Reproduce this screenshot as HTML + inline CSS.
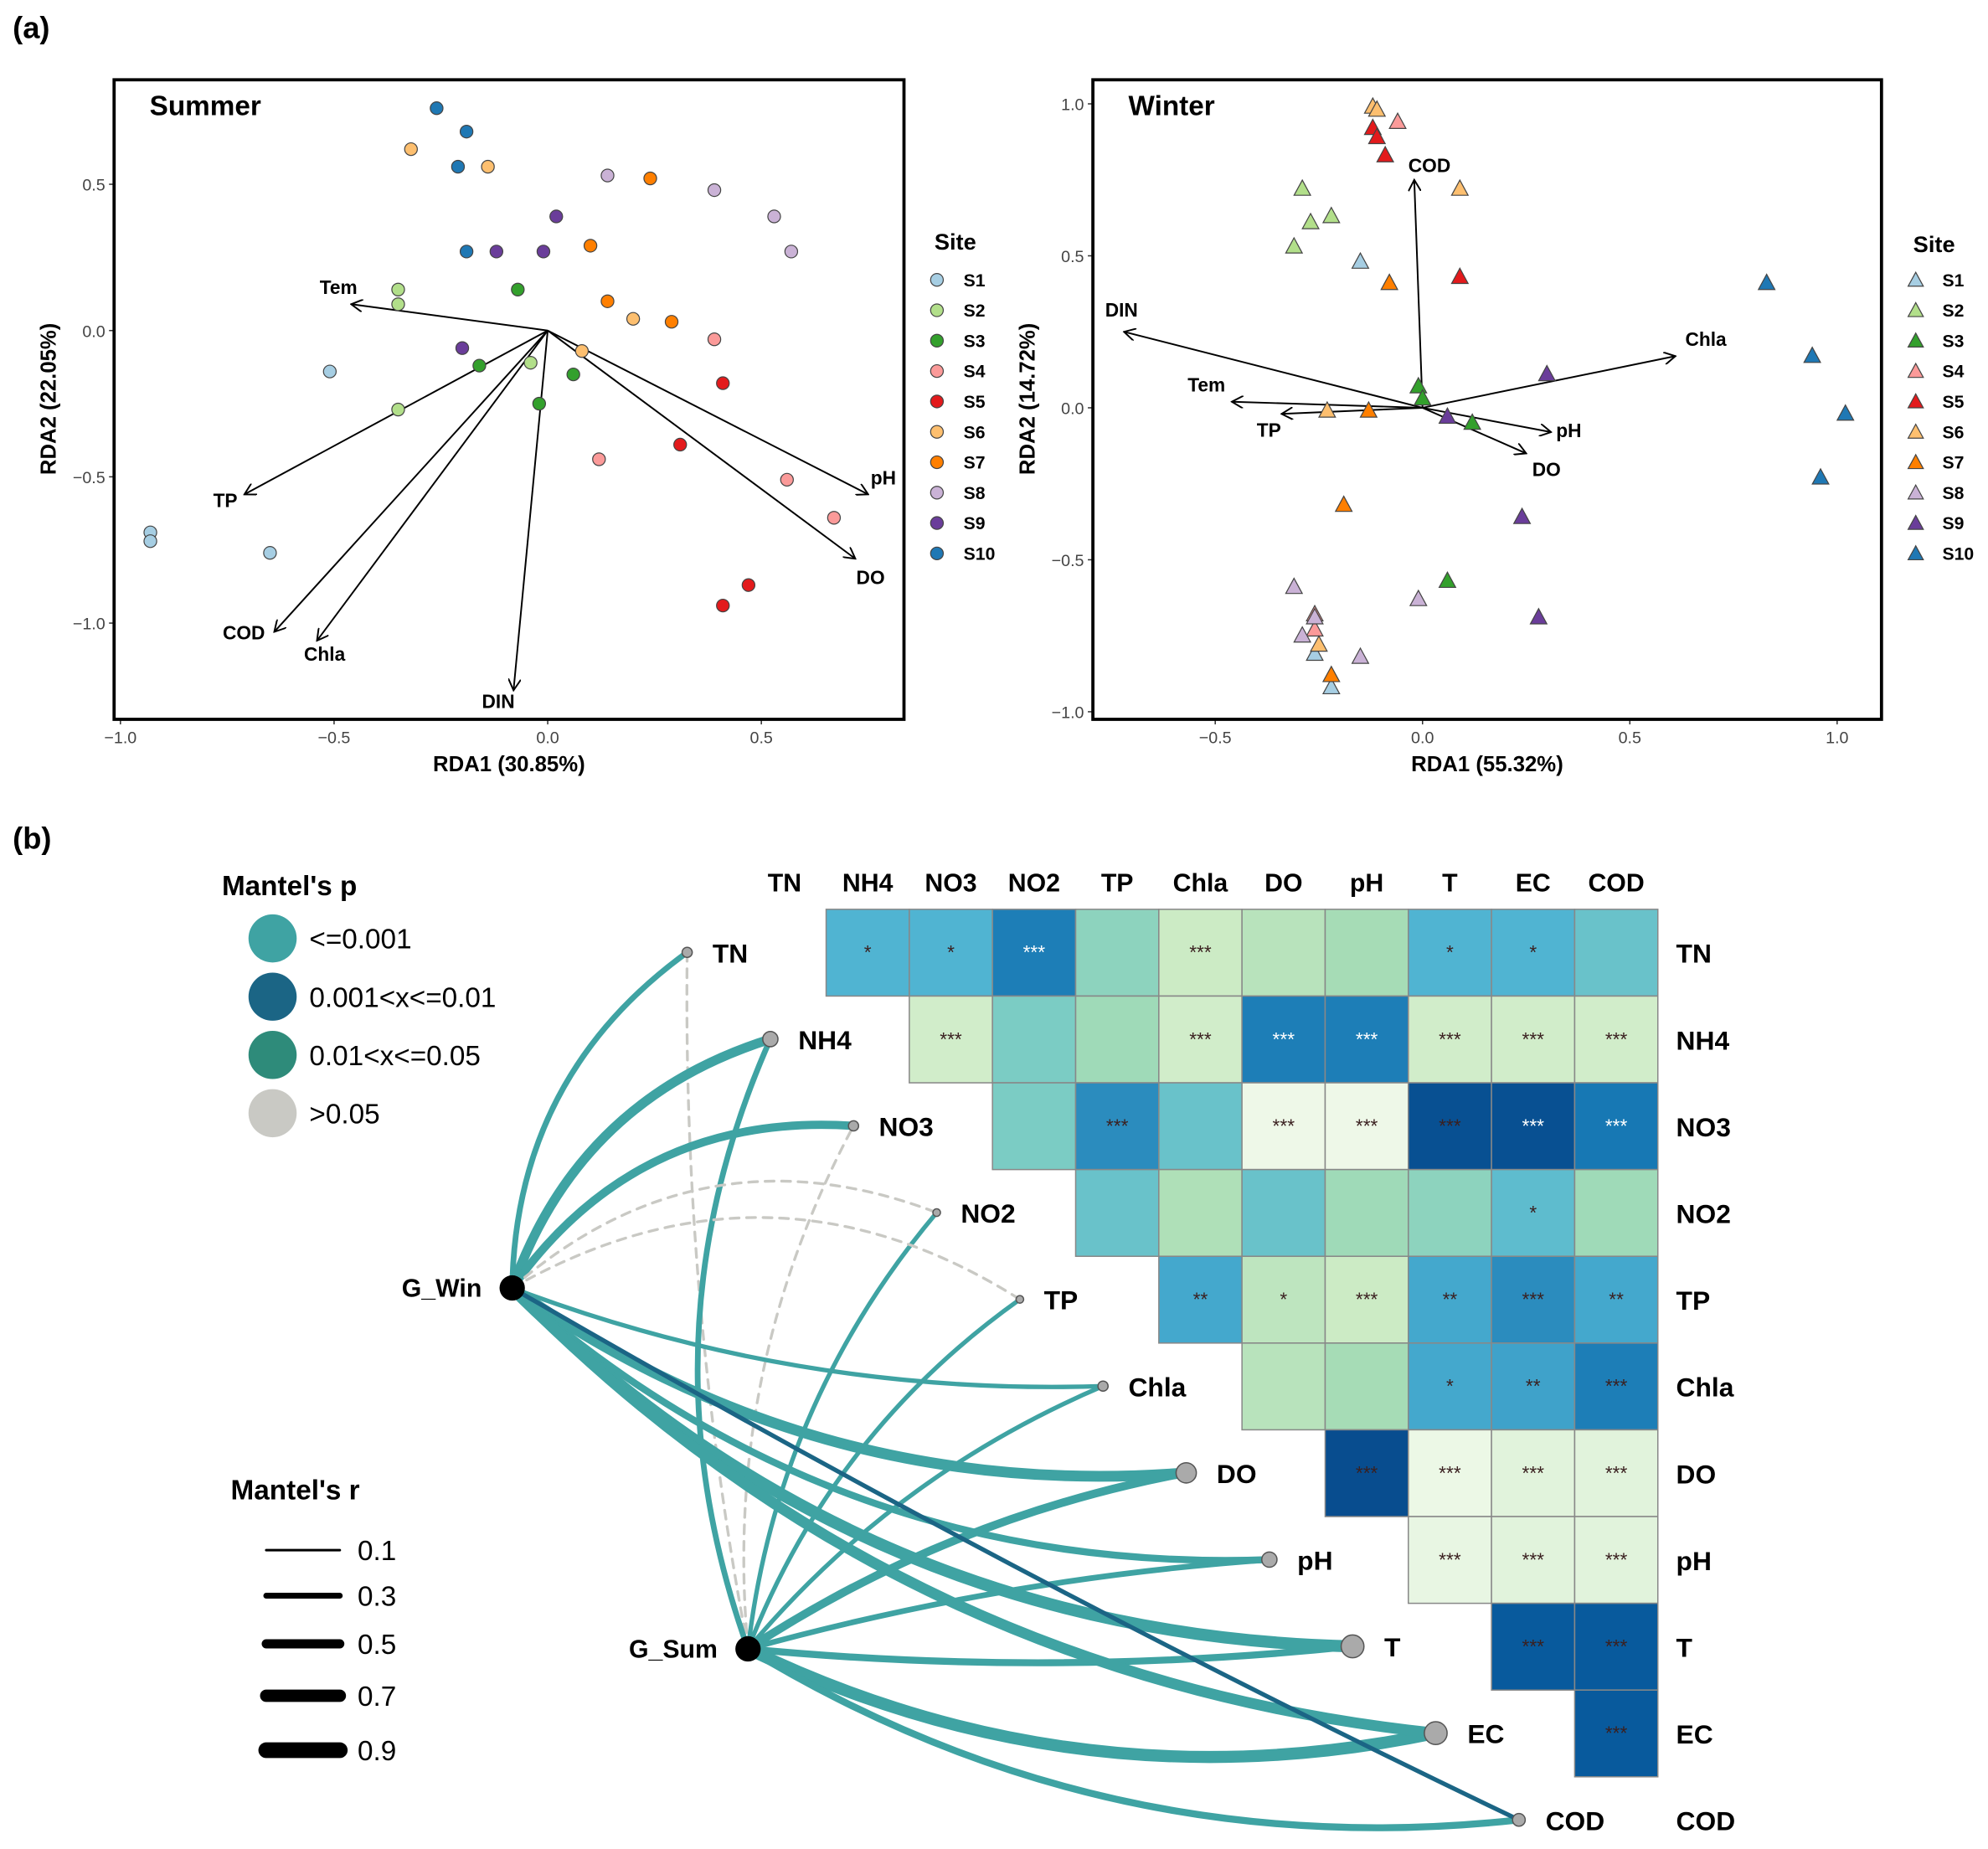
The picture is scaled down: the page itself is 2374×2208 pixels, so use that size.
<!DOCTYPE html>
<html><head><meta charset="utf-8"><style>
html,body{margin:0;padding:0;background:#fff;}
svg{display:block;font-family:"Liberation Sans",Arial,sans-serif;}
</style></head><body>
<svg id="fig" width="2374" height="2208" viewBox="0 0 1568 1460" preserveAspectRatio="none" xmlns="http://www.w3.org/2000/svg">
<defs><marker id="ah" markerWidth="10" markerHeight="10" refX="9" refY="5" orient="auto" markerUnits="userSpaceOnUse"><path d="M0,0 L9,5 L0,10" fill="none" stroke="#000" stroke-width="1.3"/></marker></defs>
<text x="10" y="30" font-size="24" font-weight="bold">(a)</text>
<text x="10" y="670" font-size="24" font-weight="bold">(b)</text>
<g id="gA"></g><g id="gB"></g>
</svg>
<script>
const NS="http://www.w3.org/2000/svg";
function el(p,t,a,txt){const e=document.createElementNS(NS,t);for(const k in a)e.setAttribute(k,a[k]);if(txt!==undefined)e.textContent=txt;p.appendChild(e);return e;}
const siteNames=["S1","S2","S3","S4","S5","S6","S7","S8","S9","S10"];
const siteColors=["#a6cee3","#b2df8a","#33a02c","#fb9a99","#e31a1c","#fdbf6f","#ff7f00","#cab2d6","#6a3d9a","#1f78b4"];
// Summer data
const sumX=[[-0.93,-0.93,-0.65,-0.51],[-0.35,-0.35,-0.35,-0.04],[-0.07,-0.16,0.06,-0.02],[0.39,0.12,0.56,0.67],[0.41,0.31,0.47,0.41],[-0.32,-0.14,0.08,0.20],[0.24,0.10,0.14,0.29],[0.14,0.39,0.53,0.57],[0.02,-0.12,-0.01,-0.20],[-0.26,-0.19,-0.21,-0.19]];
const sumY=[[-0.69,-0.72,-0.76,-0.14],[0.14,0.09,-0.27,-0.11],[0.14,-0.12,-0.15,-0.25],[-0.03,-0.44,-0.51,-0.64],[-0.18,-0.39,-0.87,-0.94],[0.62,0.56,-0.07,0.04],[0.52,0.29,0.10,0.03],[0.53,0.48,0.39,0.27],[0.39,0.27,0.27,-0.06],[0.76,0.68,0.56,0.27]];
const sumVec=["Tem","TP","COD","Chla","DIN","pH","DO"];
const sumVecX=[-0.46,-0.71,-0.64,-0.54,-0.08,0.75,0.72];
const sumVecY=[0.09,-0.56,-1.03,-1.06,-1.23,-0.56,-0.78];
const sumXTicks=[-1.0,-0.5,0.0,0.5], sumYTicks=[0.5,0.0,-0.5,-1.0];
// Winter data
const winX=[[-0.15,-0.26,-0.22],[-0.29,-0.27,-0.22,-0.31],[-0.01,0.0,0.12,0.06],[-0.06,-0.26,-0.26],[-0.12,-0.11,-0.09,0.09],[-0.12,-0.11,0.09,-0.23,-0.25],[-0.08,-0.13,-0.19,-0.22],[-0.31,-0.29,-0.01,-0.15,-0.26],[0.30,0.06,0.24,0.28],[0.83,0.94,1.02,0.96]];
const winY=[[0.48,-0.81,-0.92],[0.72,0.61,0.63,0.53],[0.07,0.03,-0.05,-0.57],[0.94,-0.68,-0.73],[0.92,0.89,0.83,0.43],[0.99,0.98,0.72,-0.01,-0.78],[0.41,-0.01,-0.32,-0.88],[-0.59,-0.75,-0.63,-0.82,-0.69],[0.11,-0.03,-0.36,-0.69],[0.41,0.17,-0.02,-0.23]];
const winVec=["COD","DIN","Chla","Tem","TP","pH","DO"];
const winVecX=[-0.02,-0.72,0.61,-0.46,-0.34,0.31,0.25];
const winVecY=[0.75,0.25,0.17,0.02,-0.02,-0.08,-0.15];
const winXTicks=[-0.5,0.0,0.5,1.0], winYTicks=[1.0,0.5,0.0,-0.5,-1.0];

const gA=document.getElementById('gA');
function panel(o){
  const g=el(gA,'g',{});
  
  
  const sx=v=>o.x0+v*o.kx, sy=v=>o.y0-v*o.ky;
  o.xt.forEach(t=>{el(g,'line',{x1:sx(t),x2:sx(t),y1:o.box[3],y2:o.box[3]+4,stroke:'#333'});el(g,'text',{x:sx(t),y:o.box[3]+19,'font-size':13,fill:'#444','text-anchor':'middle'},(t<0?'\u2212':'')+Math.abs(t).toFixed(1));});
  o.yt.forEach(t=>{el(g,'line',{x1:o.box[0]-4,x2:o.box[0],y1:sy(t),y2:sy(t),stroke:'#333'});el(g,'text',{x:o.box[0]-7,y:sy(t)+5,'font-size':13,fill:'#444','text-anchor':'end'},(t<0?'\u2212':'')+Math.abs(t).toFixed(1));});
  o.vn.forEach((n,i)=>{
    const l=el(g,'line',{x1:sx(0),y1:sy(0),x2:sx(o.vx[i]),y2:sy(o.vy[i]),stroke:'#000','stroke-width':1.3,'marker-end':'url(#ah)'});
    
    
    const off=o.lo[i];
    const t=el(g,'text',{x:sx(o.vx[i])+off[0],y:sy(o.vy[i])+off[1],'font-size':15,'font-weight':'bold','text-anchor':'middle'},n);
    
    
  });
  o.px.forEach((arr,s)=>arr.forEach((v,j)=>{
    const cx=sx(v), cy=sy(o.py[s][j]);
    let p;
    if(o.tri) p=el(g,'polygon',{points:`${cx},${cy-7} ${cx-6.5},${cy+5} ${cx+6.5},${cy+5}`,fill:siteColors[s],stroke:'#444','stroke-width':0.8});
    else p=el(g,'circle',{cx:cx,cy:cy,r:5,fill:siteColors[s],stroke:'#444','stroke-width':0.8});
    
    
  }));
  el(g,'rect',{x:o.box[0],y:o.box[1],width:o.box[2]-o.box[0],height:o.box[3]-o.box[1],fill:'none',stroke:'#000','stroke-width':2.5});
  el(g,'text',{x:o.box[0]+28,y:o.box[1]+28,'font-size':22,'font-weight':'bold'},o.title);
  el(g,'text',{x:(o.box[0]+o.box[2])/2,y:609,'font-size':17,'font-weight':'bold','text-anchor':'middle'},o.xl);
  el(g,'text',{x:0,y:0,'font-size':17,'font-weight':'bold','text-anchor':'middle',transform:`translate(${o.ylx},315) rotate(-90)`},o.yl);
  const lg=el(g,'g',{});
  
  
  el(lg,'text',{x:o.lgx-1,y:o.lgy,'font-size':18,'font-weight':'bold'},'Site');
  siteNames.forEach((n,i)=>{
    const cy=o.lgy+o.lgd+i*24, cx=o.lgx+1;
    if(o.tri) el(lg,'polygon',{points:`${cx},${cy-6} ${cx-6},${cy+5} ${cx+6},${cy+5}`,fill:siteColors[i],stroke:'#444','stroke-width':0.8});
    else el(lg,'circle',{cx:cx,cy:cy,r:5,fill:siteColors[i],stroke:'#444','stroke-width':0.8});
    el(lg,'text',{x:o.lgx+22,y:cy+5,'font-size':14,'font-weight':'bold'},n);
  });
}
panel({name:'summer-rda',box:[90,63,713,568],x0:432,kx:337,y0:261,ky:231,xt:sumXTicks,yt:sumYTicks,vn:sumVec,vx:sumVecX,vy:sumVecY,
 lo:[[-10,-8],[-15,10],[-24,6],[6,16],[-12,14],[12,-8],[12,20]],px:sumX,py:sumY,tri:false,title:'Summer',xl:'RDA1 (30.85%)',yl:'RDA2 (22.05%)',ylx:44,lgx:738,lgy:197,lgd:24});
panel({name:'winter-rda',box:[862,63,1484,568],x0:1122,kx:327,y0:322,ky:240,xt:winXTicks,yt:winYTicks,vn:winVec,vx:winVecX,vy:winVecY,
 lo:[[12,-6],[-2,-12],[24,-8],[-20,-8],[-10,18],[14,4],[16,18]],px:winX,py:winY,tri:true,title:'Winter',xl:'RDA1 (55.32%)',yl:'RDA2 (14.72%)',ylx:816,lgx:1510,lgy:199,lgd:22});

// ---------- Panel b ----------
const vars=["TN","NH4","NO3","NO2","TP","Chla","DO","pH","T","EC","COD"];
const corr=[
 [0.62,0.62,0.80,0.45,0.25,0.32,0.38,0.62,0.62,0.55],
 [0.22,0.50,0.40,0.22,0.80,0.80,0.22,0.22,0.22],
 [0.50,0.75,0.55,0.05,0.05,0.95,0.95,0.82],
 [0.55,0.35,0.55,0.40,0.45,0.58,0.40],
 [0.66,0.30,0.25,0.66,0.75,0.66],
 [0.32,0.38,0.66,0.68,0.80],
 [0.96,0.06,0.12,0.12],
 [0.08,0.12,0.12],
 [0.92,0.92],
 [0.92]];
const stars=[
 ["*","*","***","","***","","","*","*",""],
 ["***","","","***","***","***","***","***","***"],
 ["","***","","***","***","***","***","***"],
 ["","","","","","*",""],
 ["**","*","***","**","***","**"],
 ["","","*","**","***"],
 ["***","***","***","***"],
 ["***","***","***"],
 ["***","***"],
 ["***"]];
const starWhite=[[0,2],[1,4],[1,5],[2,6],[2,7],[2,8]];
const pal=["#f7fcf0","#e0f3db","#ccebc5","#a8ddb5","#7bccc4","#4eb3d3","#2b8cbe","#0868ac","#084081"];
function col(v){const t=v*(pal.length-1),i=Math.min(pal.length-2,Math.floor(t)),f=t-i;
 const a=pal[i],b=pal[i+1];const h=(s,k)=>parseInt(s.substr(1+2*k,2),16);
 return 'rgb('+[0,1,2].map(k=>Math.round(h(a,k)+(h(b,k)-h(a,k))*f)).join(',')+')';}
const gB=document.getElementById('gB');
const cw=65.6, ch=68.5, hx0=586, hy0=718;
const hm=el(gB,'g',{});


vars.forEach((v,j)=>{el(hm,'text',{x:hx0+cw*j+cw/2,y:704,'font-size':20,'font-weight':'bold','text-anchor':'middle'},v);});
vars.forEach((v,i)=>{el(hm,'text',{x:1322,y:hy0+ch*i+ch/2+8,'font-size':21,'font-weight':'bold'},v);});
corr.forEach((row,i)=>row.forEach((v,k)=>{
 const j=i+1+k, x=hx0+cw*j, y=hy0+ch*i;
 const r=el(hm,'rect',{x:x,y:y,width:cw,height:ch,fill:col(v),stroke:'#888','stroke-width':1});
 
 
 const s=stars[i][k];
 if(s){const w=starWhite.some(p=>p[0]===i&&p[1]===k);
  el(hm,'text',{x:x+cw/2,y:y+ch/2+5,'font-size':15,'text-anchor':'middle',fill:w?'#fff':'#3a2020'},s);}
}));
const hubs={G_Win:[404,1017],G_Sum:[590,1302]};
const nodeR=[4,6,4,3,3,4,8,6,9,9,5];
const winR=[0.3,0.6,0.5,0.15,0.15,0.2,0.7,0.4,0.8,0.7,0.2];
const winP=[0,0,0,3,3,0,0,0,0,0,1];
const sumR=[0.15,0.3,0.15,0.2,0.2,0.2,0.5,0.3,0.4,0.8,0.4];
const sumP=[3,0,3,0,0,0,0,0,0,0,0];
const winBend=[0.25,0.25,0.28,0.3,0.3,-0.1,-0.18,-0.2,-0.2,-0.18,-0.02];
const sumBend=[0.05,0.2,0.15,0.15,0.15,0.12,0.1,0.05,-0.05,-0.17,-0.17];
const pColors=["#3fa3a3","#1b6585","#2e8b7a","#c9c9c4"];
const net=el(gB,'g',{});


function edge(h,i,r,p,b,name){
 const [x1,y1]=hubs[h]; const x2=542+65.6*i, y2=752+68.5*i;
 const dx=x2-x1, dy=y2-y1, mx=(x1+x2)/2+dy*b, my=(y1+y2)/2-dx*b;
 const e=el(net,'path',{d:`M${x1},${y1} Q${mx},${my} ${x2},${y2}`,fill:'none',stroke:pColors[p],'stroke-width':p===3?2.2:(1.5+r*10),'stroke-dasharray':p===3?'7,6':'none','stroke-linecap':'round'});
 
 
}
vars.forEach((v,i)=>edge('G_Sum',i,sumR[i],sumP[i],sumBend[i],'edge-gsum-'+v.toLowerCase()));
vars.forEach((v,i)=>edge('G_Win',i,winR[i],winP[i],winBend[i],'edge-gwin-'+v.toLowerCase()));
vars.forEach((v,i)=>{
 const x=542+65.6*i,y=752+68.5*i;
 const c=el(net,'circle',{cx:x,cy:y,r:nodeR[i],fill:'#aaa',stroke:'#555','stroke-width':1});
 
 
 el(net,'text',{x:x+nodeR[i]+16,y:y+8,'font-size':21,'font-weight':'bold'},v);
});
Object.keys(hubs).forEach(h=>{const [x,y]=hubs[h];
 const c=el(net,'circle',{cx:x,cy:y,r:10,fill:'#000'});
 
 
 el(net,'text',{x:x-24,y:y+7,'font-size':20,'font-weight':'bold','text-anchor':'end'},h);});
const lp=el(gB,'g',{});


el(lp,'text',{x:175,y:707,'font-size':22,'font-weight':'bold'},"Mantel's p");
const pLabels=["<=0.001","0.001<x<=0.01","0.01<x<=0.05",">0.05"];
pLabels.forEach((t,i)=>{el(lp,'circle',{cx:215,cy:741+46*i,r:19,fill:pColors[i]});el(lp,'text',{x:244,y:749+46*i,'font-size':22},t);});
const lr=el(gB,'g',{});


el(lr,'text',{x:182,y:1184,'font-size':22,'font-weight':'bold'},"Mantel's r");
const rLabels=["0.1","0.3","0.5","0.7","0.9"];
const rY=[1224,1260,1298,1339,1382];
rLabels.forEach((t,i)=>{el(lr,'line',{x1:210,x2:268,y1:rY[i],y2:rY[i],stroke:'#000','stroke-width':2+i*2.6,'stroke-linecap':'round'});el(lr,'text',{x:282,y:rY[i]+8,'font-size':22},t);});
</script>
</body></html>
